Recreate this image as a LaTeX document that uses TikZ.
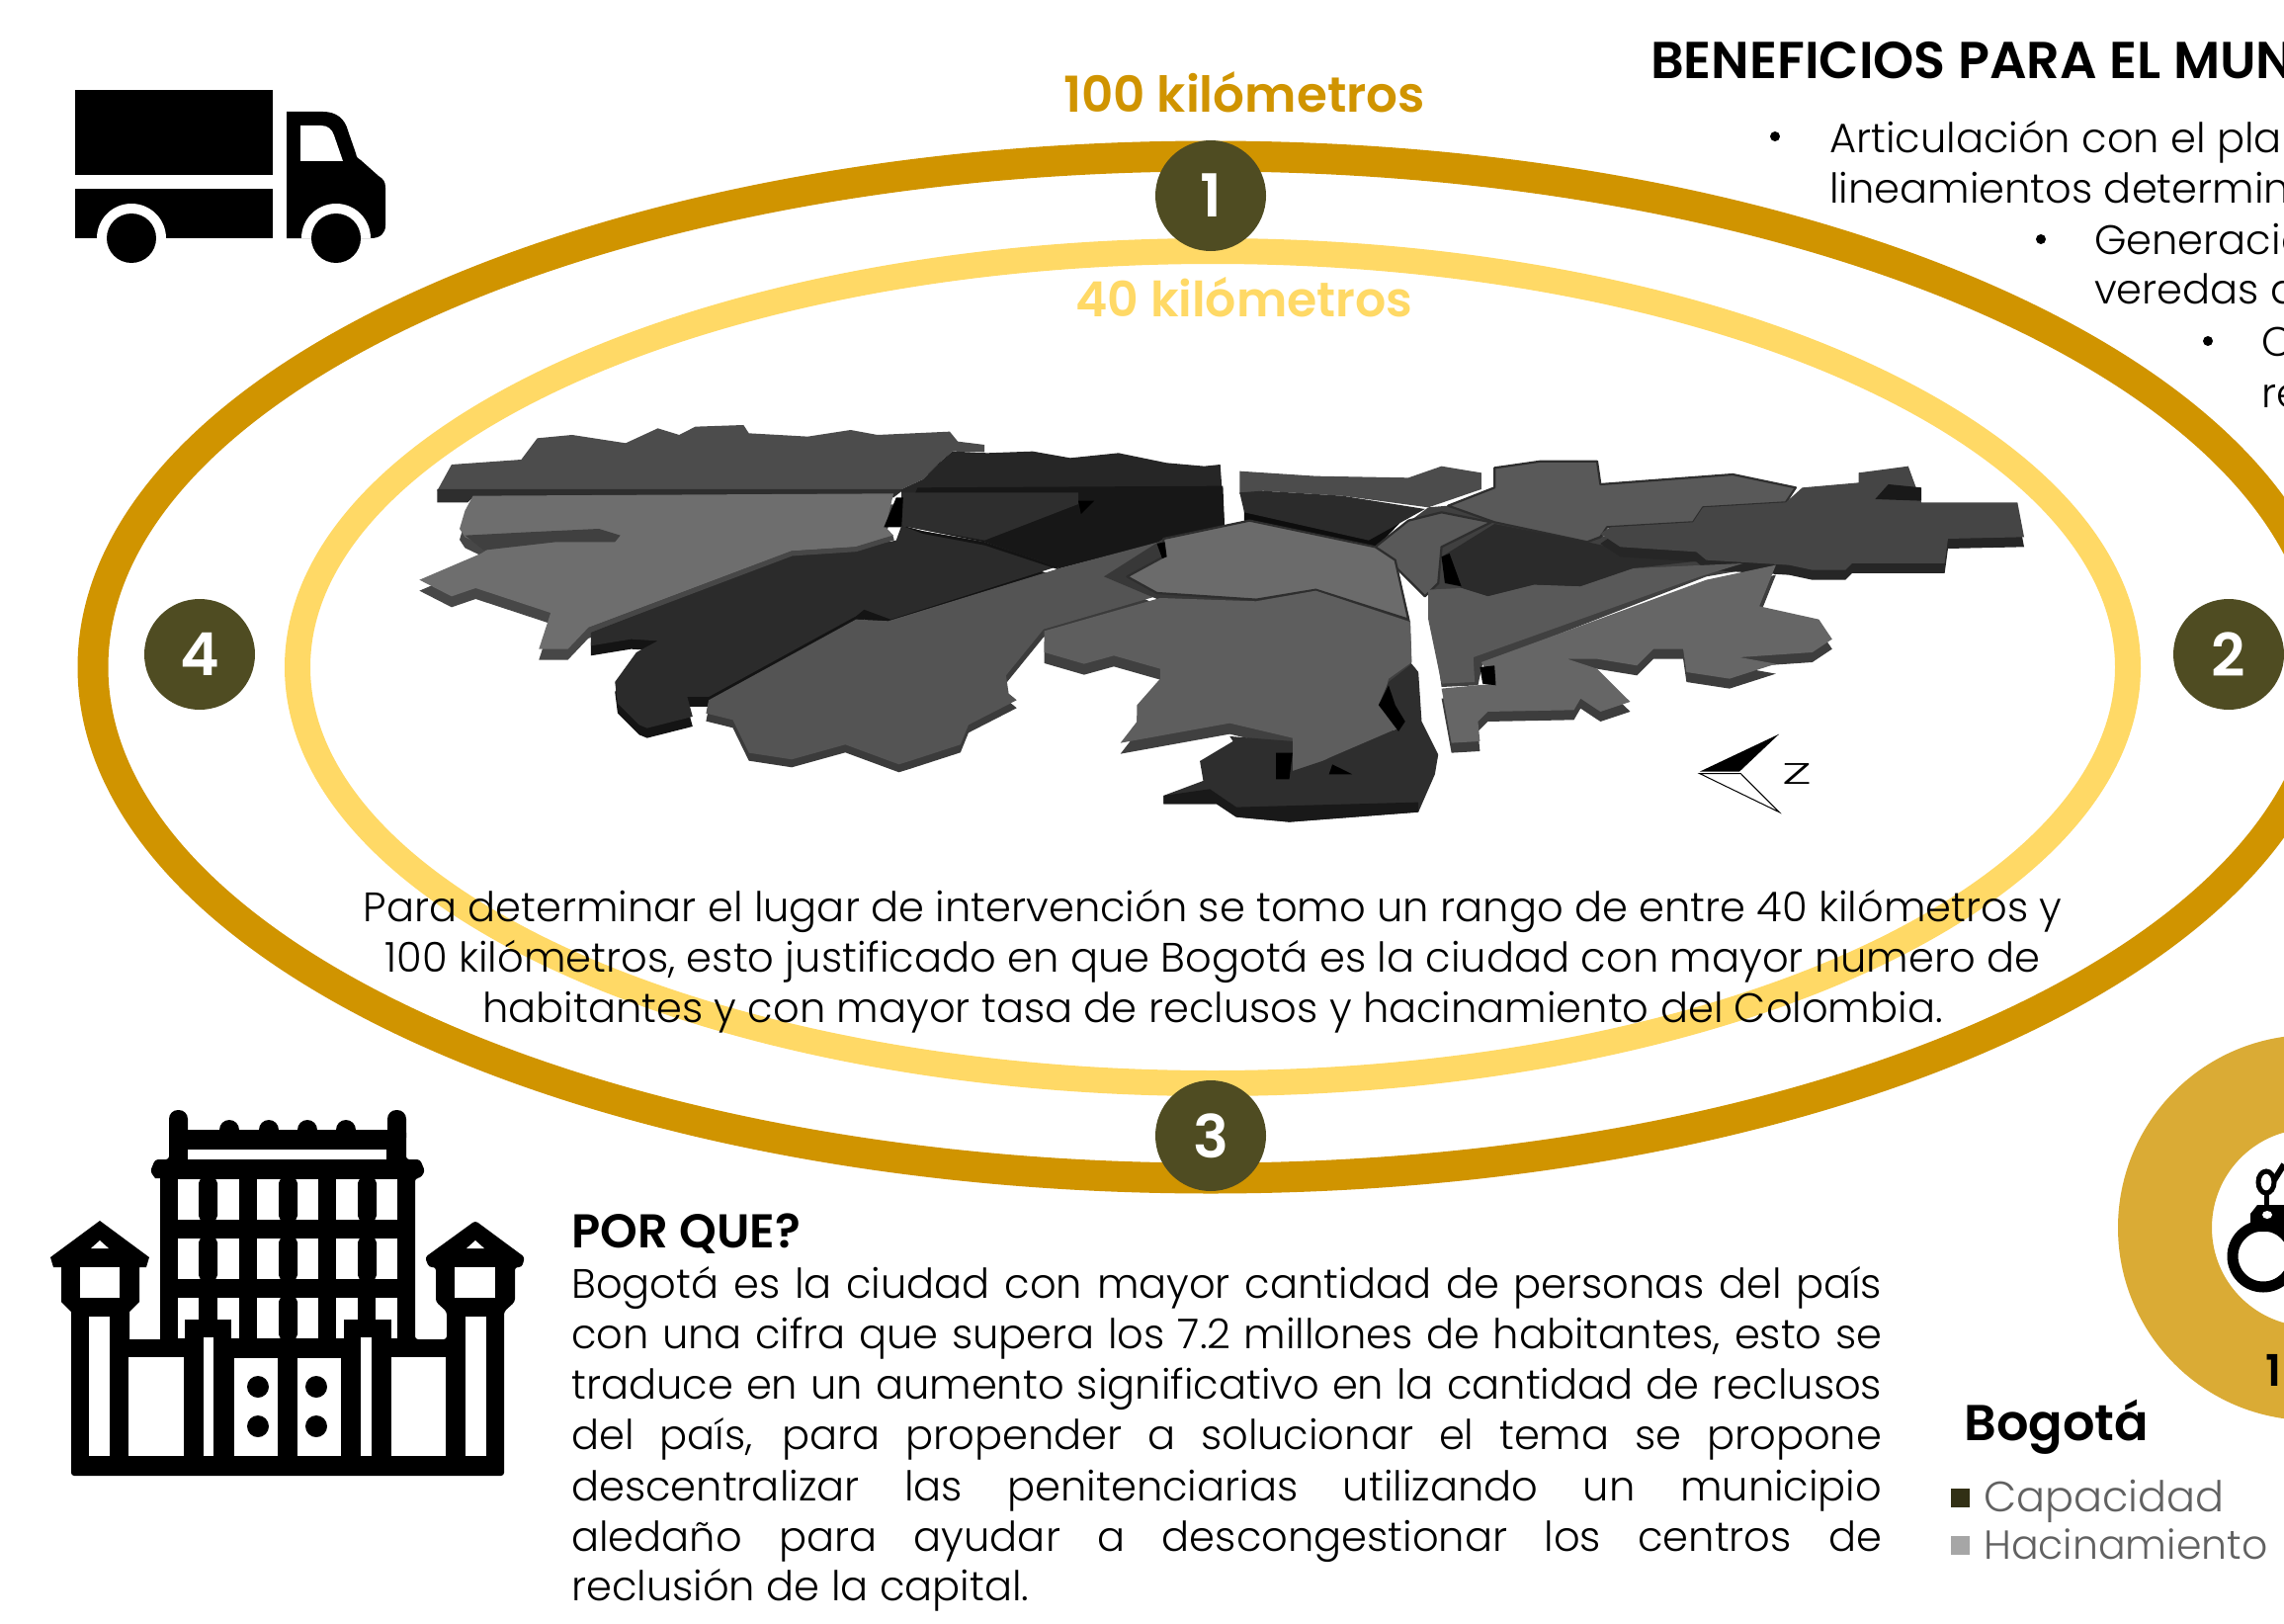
\documentclass[tikz,border=0pt]{standalone}
\usepackage{fontspec}
\setmainfont{Poppins Light}
\newfontfamily\cgb{Poppins SemiBold}
\newcommand{\fs}[1]{\fontsize{#1}{#1}\selectfont}
\newcommand{\jl}[1]{\makebox[1326pt][s]{#1}}
\definecolor{ringo}{HTML}{D09400}
\definecolor{ringi}{HTML}{FFD966}
\definecolor{olive}{HTML}{4F4C22}
\definecolor{donut}{HTML}{DAAB35}
\tikzset{
 badge/.style={circle,fill=olive,text=white,minimum size=112pt,inner sep=0pt,font=\cgb\fs{60}},
 bodytxt/.style={anchor=base west,inner sep=0pt,font=\fs{41.6},text=black},
 ctr/.style={anchor=base,inner sep=0pt,font=\fs{41.6},text=black},
 bull/.style={inner sep=0pt,circle,fill=black,minimum size=10pt},
 zthree/.style={shift={(400pt,-400pt)},x=0.542pt,y=-0.3333pt},
 zfour/.style={shift={(1050pt,-430pt)},x=0.6698pt,y=-0.3333pt},
 seam/.style={draw=black!82,line width=2.2pt,line join=round},
}
\begin{document}
\begin{tikzpicture}[x=1pt,y=-1pt]
\useasboundingbox (0,0) rectangle (2311,1643);
\fill[white] (0,0) rectangle (2311,1643);
\clip (0,0) rectangle (2311,1643);
% truck
\fill (76,91) rectangle (276,177);
\fill (76,191) rectangle (276,241);
\fill[white] (98,241) arc[start angle=180,end angle=360,radius=35] -- cycle;
\fill (133,241) circle[radius=25];
\fill (290,113) -- (327,113) .. controls (340,113) and (349,120) .. (352,132) -- (360,155) .. controls (361,160) and (362,160) .. (365,162) -- (383,178) .. controls (388,181) and (390,184) .. (390,190) -- (390,228) .. controls (390,236) and (385,241) .. (375,241) -- (290,241) -- cycle;
\fill[white] (304,127) -- (325,127) .. controls (332,127) and (336,131) .. (338,137) -- (347,163) -- (304,163) -- cycle;
\fill[white] (305,241) arc[start angle=180,end angle=360,radius=35] -- cycle;
\fill (340,241) circle[radius=25];
% rings
\draw[ringo,line width=31pt] (1225,675) ellipse[x radius=1131,y radius=517];
\draw[ringi,line width=26pt] (1227,675) ellipse[x radius=926,y radius=421];
% map left
\begin{scope}[zthree]
\def\regA{(78,290)--(105,210)--(235,195)--(265,130)--(330,120)--(430,145)--(490,100)--(530,120)--(560,95)--(650,90)--(660,115)--(770,125)--(850,105)--(900,120)--(1035,110)--(1050,140)--(1100,150)--(1100,172)--(1040,170)--(1015,205)--(985,255)--(945,285)--cycle}
\fill[black!70] \regA;
\fill[black!82] (78,285)--(950,285)--(930,310)--(145,310)--(135,325)--(78,325)--cycle;
\def\regB{(1040,170)--(1105,175)--(1190,170)--(1260,190)--(1350,175)--(1440,205)--(1510,215)--(1540,210)--(1548,395)--(1240,525)--(1100,445)--(945,395)--(945,285)--(985,255)--(1015,205)--cycle}
\fill[black!85] \regB;
\fill[black!91] (975,280)--(1545,275)--(1548,395)--(1240,525)--(1100,445)--(945,395)--cycle;
\fill[black!82] (945,295)--(1275,295)--(1275,330)--(1100,440)--(945,395)--cycle;
\fill[black] (1275,320)--(1305,320)--(1280,360)--cycle;
\def\regC{(145,305)--(930,298)--(915,400)--(930,425)--(860,460)--(740,472)--(360,705)--(322,770)--(268,770)--(290,660)--(150,585)--(105,610)--(45,560)--(160,480)--(175,465)--(130,430)--(120,405)--(130,350)--cycle}
\fill[black!72,yshift=-11pt] \regC; \fill[black!57] \regC;
\fill[black!75] (130,425)--(250,415)--(380,405)--(420,425)--(410,445)--(300,445)--(165,470)--cycle;
\fill[black] (935,310)--(948,310)--(945,400)--(912,400)--(925,350)--cycle;
\def\regD{(945,395)--(985,412)--(1100,445)--(1235,520)--(925,680)--(875,650)--(860,670)--(585,915)--(545,915)--(555,975)--(470,1010)--(455,1000)--(415,935)--(410,870)--(450,780)--(490,745)--(440,740)--(365,760)--(365,720)--(740,480)--(860,465)--(935,440)--cycle}
\fill[black!92,yshift=-10pt] \regD; \fill[black!83] \regD;
\fill[black!92] (945,395)--(985,412)--(1100,445)--(1235,520)--(1240,530)--(1100,455)--(985,420)--cycle;
\draw[black!72,line width=5pt,line join=round] (930,432)--(860,467)--(740,480)--(362,712);
\def\regE{(1425,445)--(1340,550)--(1420,610)--(1210,710)--(1140,850)--(1145,905)--(1160,925)--(1070,1000)--(1055,1060)--(960,1110)--(940,1120)--(840,1060)--(740,1105)--(660,1085)--(630,985)--(580,965)--(585,925)--(860,680)--(920,685)--(1240,525)--cycle}
\fill[black!77,yshift=-8pt] \regE; \fill[black!67] \regE;
\end{scope}
% map right
\begin{scope}[zfour]
\fill[black!78] (100,460)--(190,345)--(320,290)--(540,410)--(563,600)--(420,512)--(330,542)--(185,532)--cycle;
\fill[black!75] (620,245)--(850,335)--(1010,405)--(1125,420)--(1010,460)--(672,725)--(665,790)--(610,795)--(590,505)--(510,370)--(590,250)--cycle;
\fill[black!65,seam] (620,245)--(690,190)--(690,130)--(760,110)--(845,110)--(850,180)--(1050,150)--(1145,190)--(1130,235)--(1005,250)--(990,295)--(860,310)--(850,340)--(830,355)--(690,295)--cycle;
\fill[black!70] (305,140)--(420,155)--(560,160)--(610,125)--(670,145)--(670,195)--(590,250)--(460,215)--(340,200)--(305,210)--cycle;
\fill[black!95] (312,240)--(500,330)--(560,270)--(510,375)--(500,378)--(312,290)--cycle;
\fill[black!83] (305,205)--(340,200)--(460,215)--(585,255)--(500,350)--(312,265)--cycle;
\fill[black!65,seam] (610,265)--(685,295)--(610,370)--(605,480)--(585,520)--(510,370)--(560,290)--cycle;
\fill[black!83] (690,300)--(830,355)--(900,385)--(1010,410)--(900,435)--(820,490)--(750,485)--(680,520)--(640,495)--(610,400)--cycle;
\fill[black] (610,400)--(622,390)--(640,490)--(615,480)--cycle;
\def\regF{(190,345)--(320,290)--(510,370)--(540,410)--(560,590)--(420,500)--(330,530)--(180,510)--(135,460)--(190,400)--cycle}
\fill[black!58,seam] \regF;
\fill[black] (180,360)--(192,355)--(195,400)--(188,405)--cycle;
\def\regG{(185,525)--(330,535)--(420,503)--(563,598)--(565,720)--(530,770)--(520,850)--(545,920)--(440,1010)--(410,1050)--(385,1050)--(385,950)--(290,905)--(125,965)--(150,900)--(150,850)--(185,770)--(185,740)--(115,700)--(70,725)--(10,690)--(10,625)--cycle}
\fill[black!75,yshift=-11pt] \regG; \fill[black!63] \regG;
\def\regH{(290,945)--(385,960)--(385,1050)--(430,1020)--(545,920)--(515,850)--(530,780)--(565,725)--(575,750)--(580,900)--(605,1000)--(600,1060)--(575,1175)--(380,1205)--(300,1190)--(270,1150)--(190,1150)--(190,1125)--(250,1080)--(245,1020)--(295,960)--cycle}
\fill[black!82] \regH;
\fill[black!90] (190,1125)--(260,1105)--(300,1160)--(575,1145)--(575,1175)--(380,1205)--(300,1190)--(270,1150)--(190,1150)--cycle;
\fill[black] (360,995)--(385,995)--(380,1075)--(360,1075)--cycle;
\fill[black] (445,1030)--(475,1060)--(440,1060)--cycle;
\fill[black] (530,790)--(515,850)--(545,930)--(555,900)--(540,850)--cycle;
\def\regJ{(850,330)--(865,310)--(990,295)--(1005,250)--(1130,235)--(1155,190)--(1240,175)--(1240,145)--(1315,125)--(1335,235)--(1480,235)--(1490,340)--(1375,345)--(1370,420)--(1230,420)--(1220,440)--(1170,440)--(1135,425)--(1010,410)--(995,385)--(880,370)--cycle}
\fill[black!85,yshift=-10pt] \regJ; \fill[black!73] \regJ;
\fill[black!90] (1265,225)--(1285,180)--(1335,190)--(1335,230)--cycle;
\fill[black!65] (590,500)--(640,495)--(680,520)--(750,485)--(820,490)--(900,435)--(1065,420)--(1000,460)--(658,705)--(660,780)--(610,785)--(590,590)--cycle;
\def\regK{(1115,425)--(1090,550)--(1180,590)--(1200,650)--(1170,690)--(1060,705)--(1115,725)--(1045,770)--(980,750)--(975,680)--(930,680)--(905,730)--(845,710)--(800,710)--(845,740)--(895,840)--(850,870)--(820,830)--(810,865)--(680,870)--(665,900)--(668,960)--(625,965)--(610,800)--(690,785)--(670,720)--(1010,470)--cycle}
\fill[black!76,yshift=-10pt] \regK; \fill[black!60] \regK;
\fill[black] (668,735)--(690,730)--(692,790)--(672,785)--cycle;
\fill[black] (1120,938)--(1000,1052)--(1060,1052)--cycle;
\draw[black,line width=1pt,fill=white] (1000,1058)--(1062,1058)--(1120,1175)--cycle;
\end{scope}
\node[inner sep=0pt,font=\fs{30}] (nz) at (1818,783) {\scalebox{1.9}[1]{Z}};
% badges
\node[badge] (b1) at (1225,198) {1};
\node[badge] (b3) at (1225,1149) {3};
\node[badge] (b4) at (202,662) {4};
\node[badge] (b2) at (2255,662) {2};
% km labels
\node[anchor=base,inner sep=0pt,text=ringo,font=\cgb\fs{50}] (km100) at (1259,114) {100 kilómetros};
\node[anchor=base,inner sep=0pt,text=ringi,font=\cgb\fs{49}] (km40) at (1259,320) {40 kilómetros};
% intro text
\node[ctr] (t1) at (1227,932) {Para determinar el lugar de intervención se tomo un rango de entre 40 kilómetros y};
\node[ctr] (t2) at (1227,983) {100 kilómetros, esto justificado en que Bogotá es la ciudad con mayor numero de};
\node[ctr] (t3) at (1227,1034) {habitantes y con mayor tasa de reclusos y hacinamiento del Colombia.};
% top right
\node[anchor=base west,inner sep=0pt,font=\cgb\fs{52.5}] (tit) at (1670,80) {BENEFICIOS PARA EL MUN};
\node[bull] (bu1) at (1796,138) {};
\node[bodytxt] (l1) at (1851,154) {Articulación con el plan};
\node[bodytxt] (l2) at (1851,205) {lineamientos determina};
\node[bull] (bu2) at (2065,242) {};
\node[bodytxt] (l3) at (2119,257) {Generació};
\node[bodytxt] (l4) at (2119,307) {veredas d};
\node[bull] (bu3) at (2234,345) {};
\node[bodytxt] (l5) at (2288,360) {C};
\node[bodytxt] (l6) at (2288,412) {re};
% prison
\begin{scope}
\fill (72,1493) -- (72,1327) -- (62,1317) -- (62,1282) -- (54,1282) -- (51,1272) -- (101,1235) -- (151,1272) -- (148,1282) -- (141,1282) -- (141,1317) -- (131,1327) -- (131,1355) -- (162,1355) -- (162,1192) -- (157,1192) [rounded corners=3pt] -- (152,1185) -- (157,1173) -- (171,1173) -- (171,1143) -- (411,1143) -- (411,1173) -- (425,1173) -- (430,1185) -- (425,1192) -- (420,1192) -- (420,1355) -- (452,1355) -- (452,1327) -- (441,1317) -- (441,1282) -- (434,1282) -- (430,1272) -- (481,1235) -- (531,1272) -- (528,1282) -- (521,1282) -- (521,1317) -- (510,1327) -- (510,1493) -- cycle;
\fill[rounded corners=9pt] (171,1123) rectangle (190,1160);
\fill[rounded corners=9pt] (392,1123) rectangle (411,1160);
\foreach \mx in {232,272,311,350}{\fill (\mx,1143) circle[radius=10];}
\tikzset{every path/.style={fill=white}}
\path (190,1163) rectangle (391,1173);
\foreach \cx in {180,260,340}{\foreach \ry in {1193,1253,1313}{\path (\cx,\ry) rectangle ++(62,41);}}
\foreach \bx/\ry in {201/1193,282/1193,362/1193,201/1253,282/1253,362/1253,282/1313}{\fill[black,rounded corners=5pt] (\bx,\ry-1) rectangle ++(19,43);}
\fill[black] (201,1313) rectangle (220,1335);
\fill[black] (362,1313) rectangle (380,1335);
\fill[black] (187,1335) rectangle (234,1356);
\fill[black] (348,1335) rectangle (396,1356);
\path (90,1332) rectangle (111,1473);
\path (471,1332) rectangle (492,1473);
\path (130,1373) rectangle (186,1473);
\path (396,1373) rectangle (451,1473);
\path (206,1353) rectangle (216,1473);
\path (365,1353) rectangle (376,1473);
\path (237,1374) rectangle (281,1473);
\path (301,1374) rectangle (345,1473);
\path (81,1282) rectangle (121,1313);
\path (460,1282) rectangle (501,1313);
\path (101,1255) -- (92,1263) -- (110,1263) -- cycle;
\path (481,1255) -- (472,1263) -- (490,1263) -- cycle;
\foreach \dx/\dy in {261/1403,261/1443,320/1403,320/1443}{\fill[black] (\dx,\dy) circle[radius=11];}
\end{scope}
% por que
\node[anchor=base west,inner sep=0pt,font=\cgb\fs{48}] (pq) at (578,1262) {POR QUE?};
\node[bodytxt] (p1) at (578,1313) {\jl{Bogotá es la ciudad con mayor cantidad de personas del país}};
\node[bodytxt] (p2) at (578,1364) {\jl{con una cifra que supera los 7.2 millones de habitantes, esto se}};
\node[bodytxt] (p3) at (578,1415) {\jl{traduce en un aumento significativo en la cantidad de reclusos}};
\node[bodytxt] (p4) at (578,1466) {\jl{del país, para propender a solucionar el tema se propone}};
\node[bodytxt] (p5) at (578,1518) {\jl{descentralizar las penitenciarias utilizando un municipio}};
\node[bodytxt] (p6) at (578,1569) {\jl{aledaño para ayudar a descongestionar los centros de}};
\node[bodytxt] (p7) at (578,1619) {reclusión de la capital.};
% donut
\draw[donut,line width=95pt] (2338,1242) circle[radius=147.5];
\draw[line width=11pt] (2290,1271) circle[radius=31];
\fill (2277,1246) -- (2277,1228) -- (2284,1219) -- (2311,1219) -- (2311,1246) -- cycle;
\fill[white] (2294,1229) ellipse[x radius=5,y radius=4];
\draw[line width=5pt] (2293,1196) ellipse[x radius=8,y radius=11];
\draw[line width=5pt] (2293,1209) -- (2293,1219);
\draw[line width=6pt] (2301,1194) -- (2311,1178);
\node[anchor=base west,inner sep=0pt,font=\cgb\fs{44}] (one) at (2292,1402) {1};
% legend
\node[anchor=base west,inner sep=0pt,font=\cgb\fs{51}] (bog) at (1987,1457) {Bogotá};
\fill[black!10!olive!70!black] (1974,1506) rectangle (1993,1525);
\fill[black!35] (1974,1554) rectangle (1993,1573);
\node[anchor=base west,inner sep=0pt,text=black!62,font=\fs{43}] (cap) at (2007,1529) {Capacidad};
\node[anchor=base west,inner sep=0pt,text=black!62,font=\fs{41}] (hac) at (2007,1577) {Hacinamiento};
\end{tikzpicture}
\end{document}
